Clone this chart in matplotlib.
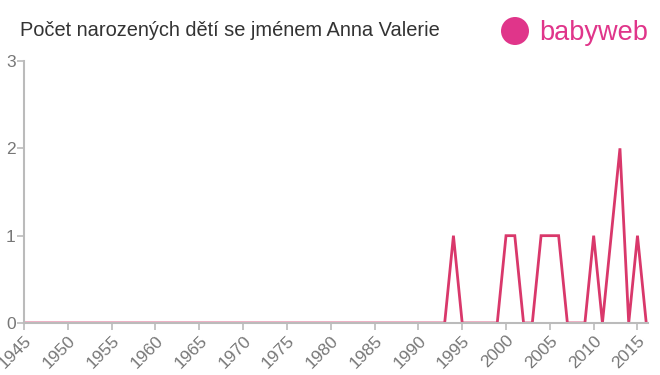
import matplotlib.pyplot as plt
from matplotlib.patches import Ellipse

years = list(range(1945, 2017))
counts = [0] * len(years)
known = {1994: 1, 2000: 1, 2001: 1, 2004: 1, 2005: 1, 2006: 1,
         2010: 1, 2012: 1, 2013: 2, 2015: 1}
for y, c in known.items():
    counts[years.index(y)] = c

xticks = list(range(1945, 2016, 5))
yticks = [0, 1, 2, 3]
title = "Počet narozených dětí se jménem Anna Valerie"

plt.rcParams['font.family'] = ['Liberation Sans', 'DejaVu Sans']

fig = plt.figure(figsize=(6.6, 3.75), dpi=100, facecolor="white")
ax = fig.add_axes([24 / 660, 1 - 323 / 375, 624 / 660, 262 / 375])

ax.plot(years, counts, color="#d9386b", linewidth=2, solid_joinstyle="miter")

ax.set_xlim(1945, 2016.2)
ax.set_ylim(0, 3)
ax.set_xticks(xticks)
ax.set_xticklabels([str(t) for t in xticks], rotation=45, ha="right",
                   rotation_mode="anchor")
ax.set_yticks(yticks)

for s in ["top", "right"]:
    ax.spines[s].set_visible(False)
for s in ["left", "bottom"]:
    ax.spines[s].set_color("#bbbbbb")
    ax.spines[s].set_linewidth(1.5)
ax.tick_params(axis="both", colors="#bbbbbb", labelcolor="#777777",
               labelsize=12.5, length=5, width=1.2)
ax.tick_params(axis="x", pad=2)
ax.tick_params(axis="y", pad=1)

fig.text(20 / 660, 1 - 30 / 375, title, fontsize=14.4, color="#333333",
         va="center", ha="left")

# babyweb logo
fig.patches.append(Ellipse((515 / 660, 1 - 31 / 375), 28 / 660, 28 / 375,
                           transform=fig.transFigure, facecolor="#e0358a",
                           edgecolor="none"))
fig.text(539 / 660, 1 - 33 / 375, "babyweb", fontsize=19.5, color="#e0358a",
         va="center", ha="left")

fig.savefig("out.png", dpi=100, facecolor="white")
